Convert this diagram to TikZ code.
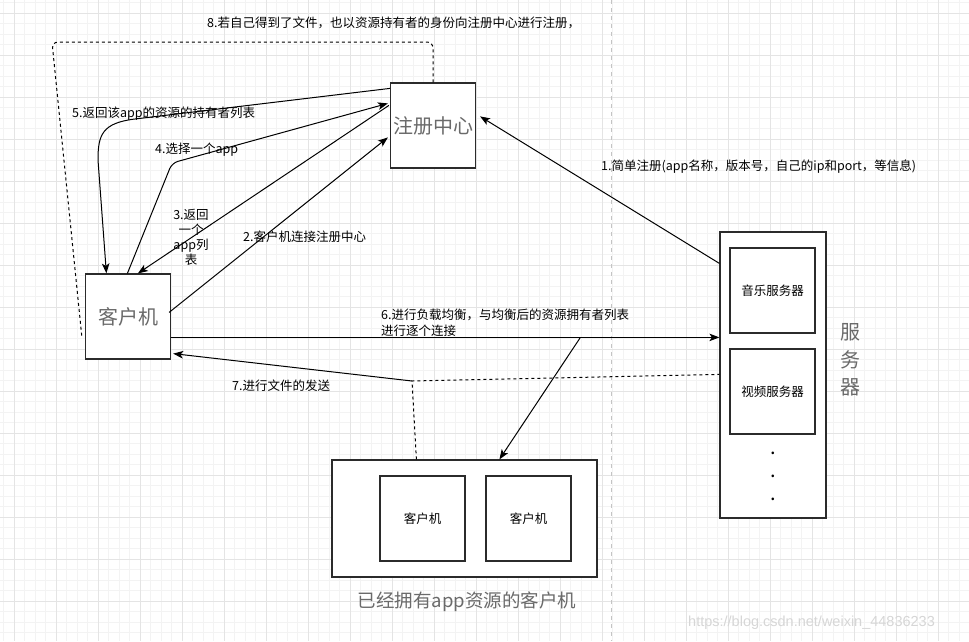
\documentclass[tikz,border=0pt]{standalone}
\usepackage{fontspec}
\setmainfont{Noto Sans CJK SC}
\newfontfamily\wmfont{Liberation Sans}
\usetikzlibrary{arrows.meta,calc}
\definecolor{gridminor}{HTML}{F3F3F3}
\definecolor{gridmajor}{HTML}{E4E4E4}
\definecolor{boxline}{HTML}{2B2B2B}
\definecolor{bigtext}{HTML}{6A6A6A}
\definecolor{pagebreak}{HTML}{C4C4C4}
\definecolor{wmgray}{HTML}{D6D6D6}
\begin{document}
\begin{tikzpicture}[x=1pt,y=-1pt,
  sq/.style={draw=boxline, line width=1.2pt, fill=white, minimum width=85pt, minimum height=85pt, inner sep=0pt},
  bigtxt/.style={text=bigtext, font=\fontsize{20}{24}\selectfont},
  smalltxt/.style={font=\fontsize{12.5}{15}\selectfont},
  lbl/.style={font=\fontsize{12.5}{15}\selectfont, inner sep=0pt, anchor=west},
  arr/.style={draw=black, line width=1pt, -{Stealth[length=10pt,width=7.5pt,inset=2.5pt]}},
  ln/.style={draw=black, line width=1pt},
  dsh/.style={draw=black, line width=1pt, dash pattern=on 3pt off 3pt},
]
\useasboundingbox (0,0) rectangle (969,641);
\fill[white] (0,0) rectangle (969,641);
% background grid
\foreach \i in {0,...,92} \draw[gridminor, line width=0.7pt] ({3.5+10.5*\i},0) -- ({3.5+10.5*\i},641);
\foreach \j in {0,...,61} \draw[gridminor, line width=0.7pt] (0,{2.5+10.5*\j}) -- (969,{2.5+10.5*\j});
\foreach \i in {0,...,22} \draw[gridmajor, line width=0.8pt] ({14+42*\i},0) -- ({14+42*\i},641);
\foreach \j in {0,...,14} \draw[gridmajor, line width=0.8pt] (0,{13+42*\j}) -- (969,{13+42*\j});
% page break line
\draw[pagebreak, line width=0.8pt, dash pattern=on 4pt off 4pt] (611,0) -- (611,641);

% boxes
\node[sq, bigtxt] (reg) at (433,125.5) {注册中心};
\node[sq, bigtxt] (client) at (128,316.5) {客户机};
\node[sq, minimum width=106pt, minimum height=286pt] (server) at (773,375) {};
\node[sq, smalltxt] (music) at (772.5,290.5) {音乐服务器};
\node[sq, smalltxt] (video) at (772.5,391.5) {视频服务器};
\node[font=\fontsize{20}{24}\selectfont, text=black, inner sep=0pt] (d1) at (773,453) {.};
\node[font=\fontsize{20}{24}\selectfont, text=black, inner sep=0pt] (d2) at (773,476) {.};
\node[font=\fontsize{20}{24}\selectfont, text=black, inner sep=0pt] (d3) at (773,499) {.};
\node[text=bigtext, font=\fontsize{20}{27.5}\selectfont, align=center, inner sep=0pt] (srvlbl) at (850,360) {服\\务\\器};
\node[sq, minimum width=265pt, minimum height=117pt] (owners) at (464.5,518.5) {};
\node[sq, smalltxt] (c1) at (422.5,518.5) {客户机};
\node[sq, smalltxt] (c2) at (528.5,518.5) {客户机};
\node[text=bigtext, font=\fontsize{18.5}{22}\selectfont, inner sep=0pt] (ownlbl) at (467,602) {已经拥有app资源的客户机};

% helper coordinates
\coordinate (br) at (580,338);
\coordinate (sendpt) at (412,381);
\coordinate (b4) at (172,163);
\coordinate (tl) at (52,42);
\coordinate (tr) at (433,42);

% 1
\draw[arr] ($(server.north west)+(0,32)$) -- ($(reg.north east)+(4,34)$);
% 2
\draw[arr] ($(client.north east)+(-2,39)$) -- ($(reg.north west)+(-2,55)$);
% 3
\draw[arr] ($(reg.north west)+(-1,23)$) -- ($(client.north west)+(53,0)$);
% 4
\draw[arr, rounded corners=6pt] ($(client.north west)+(42.5,0)$) -- (b4) -- ($(reg.north west)+(-2,21)$);
% 5
\draw[arr] ($(reg.north west)+(0,6)$) -- (135,119) .. controls (102,123) and (98,135) .. (98,160) -- ($(client.north west)+(21.5,0)$);
% 6
\draw[arr] ($(client.north east)+(0,64)$) -- ($(server.north west)+(0,106)$);
\draw[arr] (br) -- ($(owners.north west)+(168,0)$);
% 7
\draw[arr] (sendpt) -- ($(client.south east)+(2,-6)$);
\draw[dsh] ($(owners.north west)+(85,0)$) -- (sendpt) -- ($(server.north west)+(0,143)$);
% 8
\draw[dsh, rounded corners=6pt] (reg.north) -- (tr) -- (tl) -- ($(client.north west)+(-3,64)$);

% labels
\node[lbl] (l1) at (601,167) {1.简单注册(app名称，版本号，自己的ip和port，等信息)};
\node[lbl] (l2) at (243,237) {2.客户机连接注册中心};
\node[font=\fontsize{12.5}{15}\selectfont, inner sep=0pt, align=center] (l3) at (191,237) {3.返回\\一个\\app列\\表};
\node[lbl] (l4) at (155,150) {4.选择一个app};
\node[lbl] (l5) at (72,114) {5.返回该app的资源的持有者列表};
\node[font=\fontsize{12.5}{16}\selectfont, inner sep=0pt, align=left, anchor=north west] (l6) at (381,309) {6.进行负载均衡，与均衡后的资源拥有者列表\\进行逐个连接};
\node[lbl] (l7) at (232,386) {7.进行文件的发送};
\node[lbl] (l8) at (207,23) {8.若自己得到了文件，也以资源持有者的身份向注册中心进行注册，};
\node[text=wmgray, font=\wmfont\fontsize{14.5}{17}\selectfont, inner sep=0pt, anchor=west] (wm) at (688,623) {https://blog.csdn.net/weixin\_44836233};
\end{tikzpicture}
\end{document}
